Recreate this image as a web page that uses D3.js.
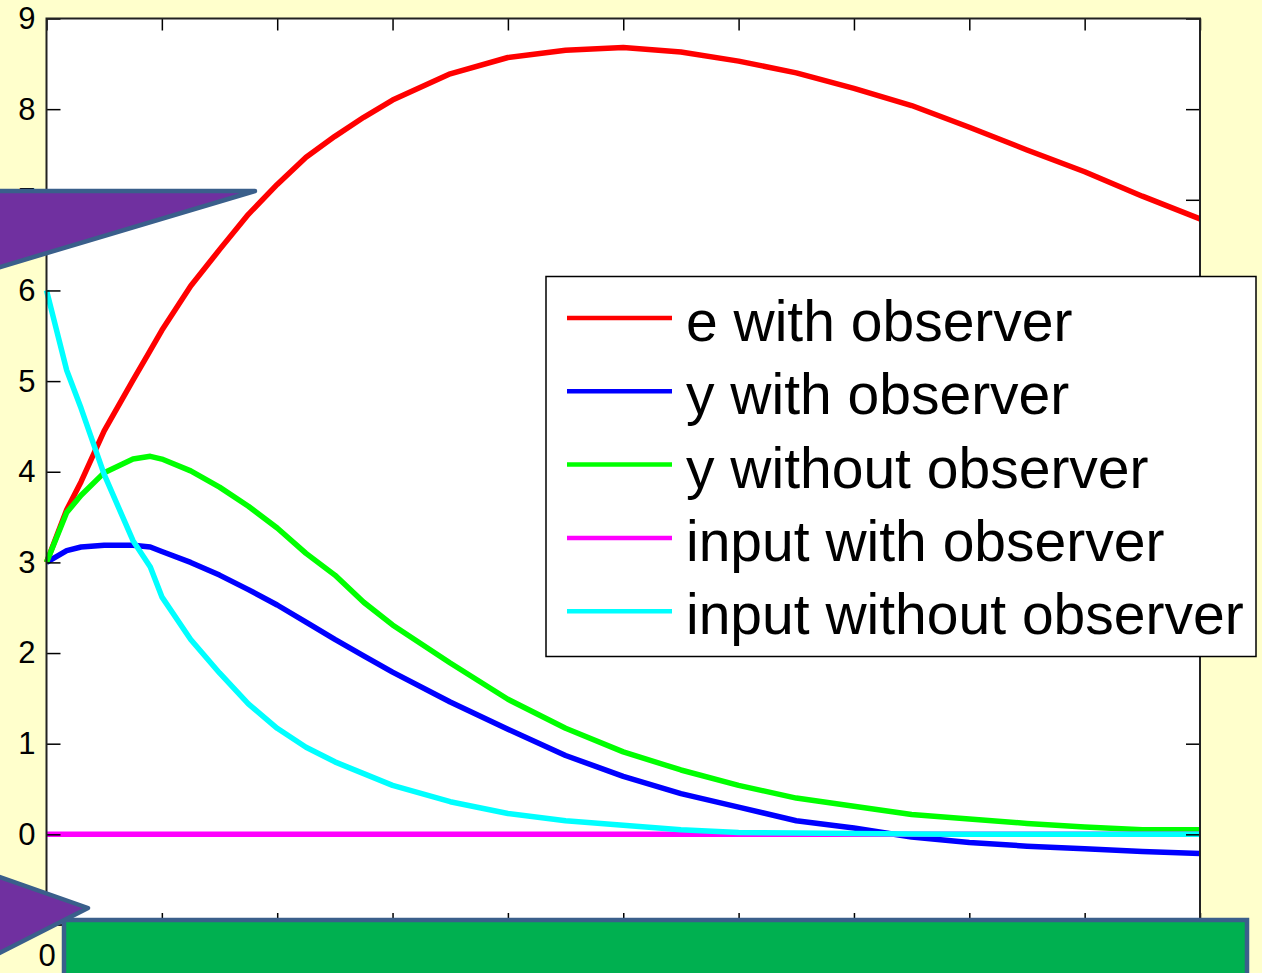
<!DOCTYPE html>
<html>
<head>
<meta charset="utf-8">
<script src="https://cdn.jsdelivr.net/npm/d3@7"></script>
<style>
  html, body { margin: 0; padding: 0; background: #FFFFCC; }
  svg { display: block; }
</style>
</head>
<body>
<svg id="chart" width="1262" height="973"></svg>
<script>
// ---- data ----
const times = [0, 0.175, 0.3, 0.5, 0.75, 0.9, 1, 1.25, 1.5, 1.75, 2, 2.25, 2.5, 2.75, 3, 3.5, 4, 4.5, 5, 5.5, 6, 6.5, 7, 7.5, 8, 8.5, 9, 9.5, 10];
const eWithObserver = [3.0, 3.58, 3.89, 4.45, 5.01, 5.34, 5.56, 6.05, 6.45, 6.84, 7.17, 7.47, 7.70, 7.91, 8.10, 8.39, 8.57, 8.65, 8.68, 8.63, 8.53, 8.40, 8.23, 8.04, 7.80, 7.55, 7.31, 7.04, 6.79];
const yWithObserver = [3.0, 3.13, 3.17, 3.19, 3.19, 3.17, 3.12, 3.0, 2.86, 2.70, 2.53, 2.34, 2.15, 1.97, 1.79, 1.46, 1.16, 0.87, 0.64, 0.45, 0.30, 0.15, 0.07, -0.03, -0.09, -0.13, -0.16, -0.19, -0.21];
const yWithoutObserver = [3.0, 3.55, 3.74, 3.99, 4.14, 4.17, 4.14, 4.01, 3.83, 3.62, 3.38, 3.10, 2.86, 2.56, 2.31, 1.89, 1.49, 1.17, 0.91, 0.71, 0.54, 0.40, 0.31, 0.22, 0.17, 0.12, 0.08, 0.05, 0.05];
const inputWithObserver = [0, 0, 0, 0, 0, 0, 0, 0, 0, 0, 0, 0, 0, 0, 0, 0, 0, 0, 0, 0, 0, 0, 0, 0, 0, 0, 0, 0, 0];
const inputWithoutObserver = [6.0, 5.12, 4.70, 3.97, 3.24, 2.95, 2.62, 2.15, 1.78, 1.44, 1.17, 0.96, 0.80, 0.67, 0.54, 0.36, 0.23, 0.15, 0.10, 0.05, 0.02, 0.015, 0.01, 0.005, 0, 0, 0, 0, 0];
const seriesNames = ["e with observer", "y with observer", "y without observer", "input with observer", "input without observer"];
const seriesColors = ["#FF0000", "#0000FF", "#00FF00", "#FF00FF", "#00FFFF"];
const seriesValues = [eWithObserver, yWithObserver, yWithoutObserver, inputWithObserver, inputWithoutObserver];
const xTicks = [0, 1, 2, 3, 4, 5, 6, 7, 8, 9, 10];
const yTicks = [0, 1, 2, 3, 4, 5, 6, 7, 8, 9];

// ---- layout ----
const svg = d3.select("#chart");
const L = 46.5, R = 1200, T = 18.5, B = 925;
const x = d3.scaleLinear().domain([0, 10]).range([L, R]);
const y = d3.scaleLinear().domain([-1, 9]).range([B, T]);
const font = "'Liberation Sans', Arial, sans-serif";

svg.append("rect").attr("width", 1262).attr("height", 973).attr("fill", "#FFFFCC");
svg.append("rect").attr("x", L).attr("y", T).attr("width", R - L).attr("height", B - T).attr("fill", "#FFFFFF");

// lines
const line = d3.line().x((d, i) => x(times[i])).y(d => y(d));
seriesValues.forEach((vals, k) => {
  svg.append("path").datum(vals)
    .attr("d", line)
    .attr("fill", "none")
    .attr("stroke", seriesColors[k])
    .attr("stroke-width", 5.5)
    .attr("stroke-linejoin", "round");
});

// axes
const gL = svg.append("g").attr("transform", `translate(${L},0)`)
  .call(d3.axisLeft(y).tickValues(yTicks).tickSizeInner(-14).tickSizeOuter(0).tickPadding(11).tickFormat(d3.format("d")));
const gR = svg.append("g").attr("transform", `translate(${R},0)`)
  .call(d3.axisRight(y).tickValues(yTicks).tickSizeInner(-14).tickSizeOuter(0).tickFormat(""));
const gT = svg.append("g").attr("transform", `translate(0,${T})`)
  .call(d3.axisTop(x).tickValues(xTicks).tickSizeInner(-12).tickSizeOuter(0).tickFormat(""));
const gB = svg.append("g").attr("transform", `translate(0,${B})`)
  .call(d3.axisBottom(x).tickValues(xTicks).tickSizeInner(-12).tickSizeOuter(0).tickPadding(19).tickFormat(d3.format("d")));
[gL, gR, gT, gB].forEach(g => {
  g.select(".domain").remove();
  g.selectAll(".tick line").attr("stroke", "#000").attr("stroke-width", 1.5);
  g.selectAll(".tick text").attr("font-family", font).attr("font-size", 31).attr("fill", "#000");
});
svg.append("rect").attr("x", L).attr("y", T).attr("width", R - L).attr("height", B - T)
  .attr("fill", "none").attr("stroke", "#222").attr("stroke-width", 2);

// legend
const lg = svg.append("g");
lg.append("rect").attr("x", 546).attr("y", 276.5).attr("width", 710).attr("height", 380)
  .attr("fill", "#FFFFFF").attr("stroke", "#000").attr("stroke-width", 1.5);
seriesNames.forEach((name, k) => {
  const ly = 318 + k * 73.3;
  lg.append("line").attr("x1", 567).attr("x2", 672).attr("y1", ly).attr("y2", ly)
    .attr("stroke", seriesColors[k]).attr("stroke-width", 4.5);
  lg.append("text").attr("x", 686).attr("y", ly + 23)
    .attr("font-family", font).attr("font-size", 57).attr("fill", "#000").text(name);
});

// overlay shapes
const shapeStroke = "#3A5F8B";
svg.append("path")
  .attr("d", "M-20,191 L255,191 L-20,273 Z")
  .attr("fill", "#7030A0").attr("stroke", shapeStroke).attr("stroke-width", 4.5).attr("stroke-linejoin", "round");
svg.append("rect").attr("x", 64).attr("y", 920).attr("width", 1183).attr("height", 90)
  .attr("fill", "#00B050").attr("stroke", shapeStroke).attr("stroke-width", 4.5);
svg.append("path")
  .attr("d", "M-20,870 L88,908 L-20,963 Z")
  .attr("fill", "#7030A0").attr("stroke", shapeStroke).attr("stroke-width", 4.5).attr("stroke-linejoin", "round");
</script>
</body>
</html>
